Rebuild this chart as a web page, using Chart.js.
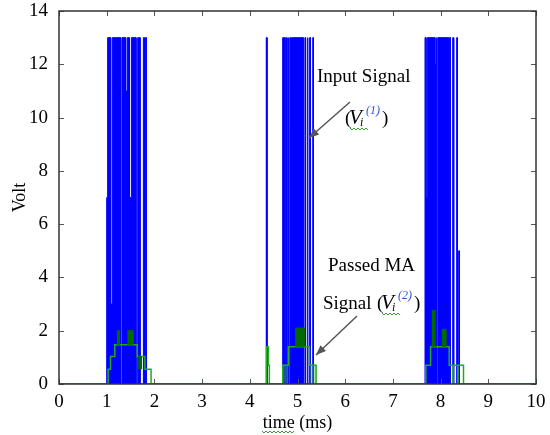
<!DOCTYPE html>
<html>
<head>
<meta charset="utf-8">
<script src="https://cdn.jsdelivr.net/npm/chart.js@4.4.1/dist/chart.umd.min.js"></script>
<style>
  html, body { margin: 0; padding: 0; background: #fff; }
  #chart { display: block; }
</style>
</head>
<body>
<canvas id="chart" width="550" height="435"></canvas>
<script>
// ============================================================
//  Input signal V_i(1) and passed MA signal V_i(2) vs time
// ============================================================

// ---- Input pulse train: edge time (ms) and level after that edge (V)
const inputEdgeMs = [
  1.000, 1.020, 1.083, 1.118, 1.200, 1.206, 1.293, 1.321, 1.398, 1.433,
  1.475, 1.517, 1.615, 1.650, 1.700, 1.769, 1.790, 1.815, 1.835,
  4.345, 4.362,
  4.690, 4.705, 4.725, 4.740, 4.765, 4.780, 4.805, 4.820, 4.840, 4.855,
  4.875, 4.888, 4.899, 4.930, 4.937, 5.000, 5.007, 5.060, 5.067, 5.120,
  5.155, 5.170, 5.205, 5.220, 5.255, 5.270, 5.320, 5.335,
  7.673, 7.694, 7.722, 7.880, 7.904, 7.915, 7.940, 8.163,
  8.184, 8.205, 8.254, 8.275, 8.338, 8.352, 8.380, 8.394
];
const inputLevel = [
  7, 13, 3, 13, 0, 13, 0, 13, 11, 13,
  7, 13, 0, 13, 0, 13, 0, 13, 0,
  13, 0,
  13, 0, 13, 0, 13, 0, 13, 0, 13, 0,
  13, 0, 13, 0, 13, 0, 13, 0, 13, 0,
  13, 0, 13, 0, 13, 0, 13, 0,
  13, 7, 13, 12, 13, 0, 13, 0,
  13, 0, 13, 0, 13, 0, 5, 0
];

// ---- Passed MA signal: edge time (ms) and level after edge (V)
const maEdgeMs = [
  1.03, 1.08, 1.17, 1.64, 1.80, 1.93,
  4.34, 4.355, 4.39, 4.41, 4.69, 4.81, 5.25, 5.39,
  7.69, 7.79, 8.18, 8.255, 8.262, 8.36, 8.367, 8.48
];
const maLevel = [
  0.55, 1.03, 1.47, 1.03, 0.55, 0,
  0.7, 1.4, 0.7, 0, 0.7, 1.4, 0.7, 0,
  0.7, 1.4, 0.7, 0, 0.7, 0, 0.7, 0
];

// fast toggling stretches of the MA signal (drawn as dark bands)
const denseStartMs = [1.21, 1.43, 1.66, 4.95, 7.81, 8.02];
const denseEndMs   = [1.28, 1.57, 1.74, 5.16, 7.90, 8.13];
const denseLow     = [1.47, 1.47, 0.55, 1.4, 1.4, 1.4];
const denseHigh    = [2.0, 2.0, 1.03, 2.1, 2.75, 2.05];

// toggling between 0 and the first level (pale bands)
const faintStartMs = [4.69, 5.25];
const faintEndMs   = [4.81, 5.39];
const faintHigh    = [0.7, 0.7];

const xTicks = [0, 1, 2, 3, 4, 5, 6, 7, 8, 9, 10];
const yTicks = [0, 2, 4, 6, 8, 10, 12, 14];

// ---- helpers
function stepPoints(edges, levels) {
  const pts = [{ x: 0, y: 0 }];
  let prev = 0;
  edges.forEach((t, i) => {
    pts.push({ x: t, y: prev }, { x: t, y: levels[i] });
    prev = levels[i];
  });
  pts.push({ x: 10, y: prev });
  return pts;
}

const SERIF = '"Liberation Serif", "Times New Roman", serif';
Chart.defaults.font.family = SERIF;
Chart.defaults.color = '#000';

// frame + inward tick marks
const frame = {
  id: 'frame',
  afterDatasetsDraw(chart) {
    const { ctx: c, chartArea: a, scales } = chart;
    c.save();
    c.strokeStyle = '#555';
    c.lineWidth = 1;
    c.beginPath();
    xTicks.forEach(v => {
      const px = Math.round(scales.x.getPixelForValue(v)) + 0.5;
      c.moveTo(px, a.bottom); c.lineTo(px, a.bottom - 5);
      c.moveTo(px, a.top); c.lineTo(px, a.top + 5);
    });
    yTicks.forEach(v => {
      const py = Math.round(scales.y.getPixelForValue(v)) + 0.5;
      c.moveTo(a.left, py); c.lineTo(a.left + 5, py);
      c.moveTo(a.right, py); c.lineTo(a.right - 5, py);
    });
    c.stroke();
    c.strokeStyle = '#333';
    c.lineWidth = 1.5;
    c.strokeRect(a.left, a.top, a.right - a.left, a.bottom - a.top);
    c.restore();
  }
};

function arrow(c, x0, y0, x1, y1) {
  c.beginPath(); c.moveTo(x0, y0); c.lineTo(x1, y1); c.stroke();
  const ang = Math.atan2(y1 - y0, x1 - x0), L = 10, W = 4;
  c.beginPath();
  c.moveTo(x1, y1);
  c.lineTo(x1 - L * Math.cos(ang) + W * Math.sin(ang), y1 - L * Math.sin(ang) - W * Math.cos(ang));
  c.lineTo(x1 - L * Math.cos(ang) - W * Math.sin(ang), y1 - L * Math.sin(ang) + W * Math.cos(ang));
  c.closePath(); c.fill();
}

function squiggle(c, x0, x1, y) {
  c.save();
  c.strokeStyle = '#3c9c3c';
  c.lineWidth = 1;
  c.beginPath();
  c.moveTo(x0, y);
  for (let x = x0, k = 0; x < x1; x += 2, k++) c.lineTo(x + 2, y + (k % 2 ? 0 : 2));
  c.stroke();
  c.restore();
}

function mathV(c, x, y, sup) {
  c.font = '19px ' + SERIF;
  c.fillStyle = '#000';
  c.fillText('(', x, y);
  c.font = 'italic 21px ' + SERIF;
  c.fillText('V', x + 4, y);
  c.font = 'italic 12px ' + SERIF;
  c.fillText('i', x + 15, y + 2);
  c.fillStyle = '#2f55c8';
  c.fillText('(' + sup + ')', x + 21, y - 10);
  c.fillStyle = '#000';
  c.font = '19px ' + SERIF;
  c.fillText(')', x + 37, y);
  squiggle(c, x + 5, x + 23, y + 4);
}

const notes = {
  id: 'notes',
  afterDraw(chart) {
    const c = chart.ctx;
    c.save();
    c.textBaseline = 'alphabetic';
    c.fillStyle = '#000';
    c.font = '19px ' + SERIF;
    c.fillText('Input Signal', 317, 82);
    mathV(c, 345, 124, '1');
    c.font = '19px ' + SERIF;
    c.fillText('Passed MA', 328, 271);
    c.fillText('Signal', 323, 309);
    mathV(c, 377, 309, '2');
    c.strokeStyle = '#555';
    c.fillStyle = '#555';
    c.lineWidth = 1.5;
    arrow(c, 350, 102, 309, 138);
    arrow(c, 357, 316, 316, 355);
    squiggle(c, 262, 294, 431);
    c.restore();
  }
};

// ---- datasets
const denseSets = denseStartMs.map((t0, i) => ({
  data: [{ x: t0, y: denseHigh[i] }, { x: denseEndMs[i], y: denseHigh[i] }],
  borderColor: '#006a00',
  backgroundColor: '#006a00',
  borderWidth: 1,
  fill: { target: { value: denseLow[i] } },
  order: 0
}));

const faintSets = faintStartMs.map((t0, i) => ({
  data: [{ x: t0, y: faintHigh[i] }, { x: faintEndMs[i], y: faintHigh[i] }],
  borderColor: '#2aa52a',
  backgroundColor: 'rgba(60,185,60,0.4)',
  borderWidth: 1,
  fill: { target: { value: 0 } },
  order: 2
}));

const ctx = document.getElementById('chart');
new Chart(ctx, {
  type: 'line',
  data: {
    datasets: [
      {
        label: 'Passed MA signal',
        data: stepPoints(maEdgeMs, maLevel),
        borderColor: '#22a822',
        borderWidth: 1.5,
        fill: false,
        order: 1
      },
      ...denseSets,
      ...faintSets,
      {
        label: 'Input signal',
        data: stepPoints(inputEdgeMs, inputLevel),
        borderColor: '#0000ff',
        backgroundColor: '#0000ff',
        borderWidth: 1,
        fill: 'origin',
        order: 3
      }
    ]
  },
  options: {
    responsive: false,
    animation: false,
    layout: { padding: { top: 11, right: 14, left: 0, bottom: 0 } },
    elements: { point: { radius: 0 }, line: { tension: 0 } },
    plugins: { legend: { display: false }, tooltip: { enabled: false } },
    scales: {
      x: {
        type: 'linear',
        min: 0,
        max: 10,
        afterBuildTicks: s => { s.ticks = xTicks.map(v => ({ value: v })); },
        afterFit: s => { s.height = 51; s.paddingLeft = 0; s.paddingRight = 0; },
        grid: { display: false, drawTicks: false },
        border: { display: false },
        ticks: { padding: 9, color: '#000', font: { size: 19, lineHeight: 1 } },
        title: { display: true, text: 'time (ms)', color: '#000', font: { size: 18, lineHeight: 1.2 }, padding: { top: 0, bottom: 1 } }
      },
      y: {
        type: 'linear',
        min: 0,
        max: 14,
        afterBuildTicks: s => { s.ticks = yTicks.map(v => ({ value: v })); },
        afterFit: s => { s.width = 59; s.paddingTop = 0; s.paddingBottom = 0; },
        grid: { display: false, drawTicks: false },
        border: { display: false },
        ticks: { padding: 11, color: '#000', font: { size: 19, lineHeight: 1 } },
        title: { display: true, text: 'Volt', color: '#000', font: { size: 18, lineHeight: 1.2 }, padding: { top: 9, bottom: 0 } }
      }
    }
  },
  plugins: [frame, notes]
});
</script>
</body>
</html>
